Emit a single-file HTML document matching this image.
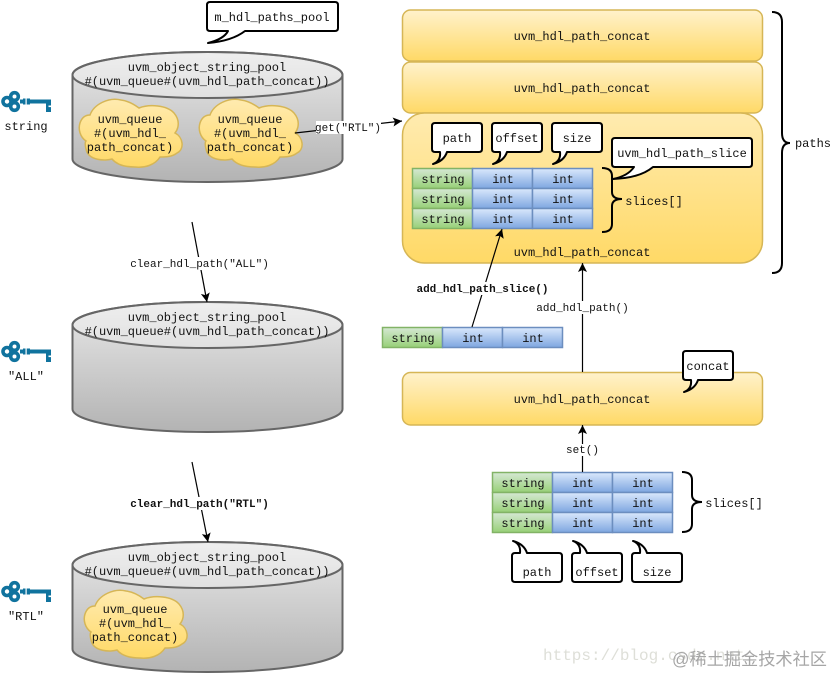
<!DOCTYPE html>
<html><head><meta charset="utf-8">
<style>
html,body{margin:0;padding:0;background:#fff;width:834px;height:674px;overflow:hidden}
svg{display:block}
text{font-family:"Liberation Mono",monospace;font-size:12px;fill:#111;text-anchor:middle}
.s{font-size:11px}
.b{font-size:11px;font-weight:bold}
.l{stroke:#000;stroke-width:1.2;fill:none}
.c{fill:#fff;stroke:#000;stroke-width:2;stroke-linejoin:round}
.g{fill:url(#gr);stroke:#82b366;stroke-width:1.5}
.u{fill:url(#bl);stroke:#6c8ebf;stroke-width:1.5}
.y{fill:url(#ye);stroke:#d6b656;stroke-width:1.5}
.z{fill:url(#ye2);stroke:#d6b656;stroke-width:1.5}
.br{fill:none;stroke:#000;stroke-width:2}
</style></head><body>
<svg width="834" height="674" viewBox="0 0 834 674" xmlns="http://www.w3.org/2000/svg">
<defs>
<linearGradient id="gy" x1="0" y1="0" x2="0" y2="1"><stop offset="0" stop-color="#e8e8e8"/><stop offset="1" stop-color="#b3b3b3"/></linearGradient>
<linearGradient id="ye" x1="0" y1="0" x2="0" y2="1"><stop offset="0" stop-color="#fff2cc"/><stop offset="1" stop-color="#ffd966"/></linearGradient>
<linearGradient id="ye2" x1="0" y1="0" x2="0" y2="1"><stop offset="0" stop-color="#ffebb0"/><stop offset="1" stop-color="#ffd966"/></linearGradient>
<linearGradient id="gr" x1="0" y1="0" x2="0" y2="1"><stop offset="0" stop-color="#d5e8d4"/><stop offset="1" stop-color="#97d077"/></linearGradient>
<linearGradient id="bl" x1="0" y1="0" x2="0" y2="1"><stop offset="0" stop-color="#dae8fc"/><stop offset="1" stop-color="#7ea6e0"/></linearGradient>
<marker id="a" markerWidth="10" markerHeight="9" refX="9" refY="4.500" orient="auto" markerUnits="userSpaceOnUse"><path d="M0 0L9 4.500L0 9L2 4.500Z" fill="#000"/></marker>
<g id="cyl">
<path d="M72.500 23A135 23 0 0 1 342.500 23V107A135 23 0 0 1 72.500 107Z" fill="url(#gy)" stroke="#666" stroke-width="2"/>
<path d="M72.500 23A135 23 0 0 0 342.500 23A135 23 0 0 0 72.500 23Z" fill="#fff" fill-opacity=".28" stroke="#666" stroke-width="2"/>
</g>
<path id="cloud" class="z" d="M11 16C15 5 30 -2 42 1C50 2 56 6 60 9C70 5 88 6 95 14C101 21 100 29 96 34C104 38 106 50 98 54C93 58 86 58 81 58C76 66 66 69 56 68C46 68 38 66 33 60C27 62 9 62 7 50C6 46 6 43 7 42C1 38 -1 30 1 24C3 18 7 16 11 16Z"/>
<g id="key">
<g fill="none" stroke="#10739e" stroke-width="3.600">
<circle cx="6" cy="10.500" r="4"/>
<circle cx="13.500" cy="5.500" r="3.800"/>
<circle cx="13.500" cy="15.500" r="3.800"/>
</g>
<g fill="#10739e">
<rect x="19" y="8.500" width="31" height="4"/>
<rect x="22" y="7.500" width="7" height="6"/>
<rect x="45" y="8.500" width="5" height="12.500"/>
</g>
<rect x="47.500" y="14.500" width="2.500" height="1.600" fill="#fff"/>
<rect x="24.500" y="7.500" width="1.200" height="6" fill="#fff"/>
</g>
<path id="call" class="c" d="M3 0H47Q50 0 50 3V26Q50 29 47 29H15Q12 38 1 41Q9 38 8 29H3Q0 29 0 26V3Q0 0 3 0Z"/>
<g id="tbl">
<rect class="g" x="0" y="0" width="60" height="20"/><rect class="u" x="60" y="0" width="60" height="20"/><rect class="u" x="120" y="0" width="60" height="20"/>
<rect class="g" x="0" y="20" width="60" height="20"/><rect class="u" x="60" y="20" width="60" height="20"/><rect class="u" x="120" y="20" width="60" height="20"/>
<rect class="g" x="0" y="40" width="60" height="20"/><rect class="u" x="60" y="40" width="60" height="20"/><rect class="u" x="120" y="40" width="60" height="20"/>
</g>
</defs>

<!-- cylinders -->
<use href="#cyl" x="0" y="52"/>
<use href="#cyl" x="0" y="302"/>
<use href="#cyl" x="0" y="542"/>
<text x="207" y="71">uvm_object_string_pool</text><text x="207" y="85">#(uvm_queue#(uvm_hdl_path_concat))</text>
<text x="207" y="321">uvm_object_string_pool</text><text x="207" y="335">#(uvm_queue#(uvm_hdl_path_concat))</text>
<text x="207" y="561">uvm_object_string_pool</text><text x="207" y="575">#(uvm_queue#(uvm_hdl_path_concat))</text>

<!-- clouds -->
<use href="#cloud" x="79" y="99"/>
<use href="#cloud" x="199" y="99"/>
<use href="#cloud" x="84" y="590"/>
<text x="130" y="123">uvm_queue</text><text x="130" y="137">#(uvm_hdl_</text><text x="130" y="151">path_concat)</text>
<text x="250" y="123">uvm_queue</text><text x="250" y="137">#(uvm_hdl_</text><text x="250" y="151">path_concat)</text>
<text x="135" y="613">uvm_queue</text><text x="135" y="627">#(uvm_hdl_</text><text x="135" y="641">path_concat)</text>

<!-- keys -->
<use href="#key" x="1" y="91"/>
<use href="#key" x="1" y="341"/>
<use href="#key" x="1" y="581"/>
<text x="26" y="130">string</text>
<text x="26" y="380">"ALL"</text>
<text x="26" y="620">"RTL"</text>

<!-- pool callout -->
<path class="c" d="M210 2H335Q338 2 338 5V28Q338 31 335 31H245Q232 41 208 43Q224 39 228 31H210Q207 31 207 28V5Q207 2 210 2Z"/>
<text x="272" y="21">m_hdl_paths_pool</text>

<!-- concat boxes -->
<rect class="y" x="402.500" y="10" width="360" height="51" rx="8"/>
<rect class="y" x="402.500" y="62" width="360" height="51" rx="8"/>
<rect class="z" x="402.500" y="113" width="360" height="150" rx="22"/>
<rect class="y" x="402.500" y="372.500" width="360" height="52.500" rx="8"/>
<text x="582" y="40">uvm_hdl_path_concat</text>
<text x="582" y="92">uvm_hdl_path_concat</text>
<text x="582" y="256">uvm_hdl_path_concat</text>
<text x="582" y="403">uvm_hdl_path_concat</text>

<!-- tables -->
<use href="#tbl" x="412.500" y="168.500"/>
<use href="#tbl" x="492.500" y="472.500"/>
<rect class="g" x="382.500" y="327.500" width="60" height="20"/><rect class="u" x="442.500" y="327.500" width="60" height="20"/><rect class="u" x="502.500" y="327.500" width="60" height="20"/>
<text x="443" y="183">string</text><text x="503" y="183">int</text><text x="563" y="183">int</text>
<text x="443" y="203">string</text><text x="503" y="203">int</text><text x="563" y="203">int</text>
<text x="443" y="223">string</text><text x="503" y="223">int</text><text x="563" y="223">int</text>
<text x="413" y="342">string</text><text x="473" y="342">int</text><text x="533" y="342">int</text>
<text x="523" y="487">string</text><text x="583" y="487">int</text><text x="643" y="487">int</text>
<text x="523" y="507">string</text><text x="583" y="507">int</text><text x="643" y="507">int</text>
<text x="523" y="527">string</text><text x="583" y="527">int</text><text x="643" y="527">int</text>

<!-- callouts top -->
<use href="#call" x="432" y="123"/>
<use href="#call" x="492" y="123"/>
<use href="#call" x="552" y="123"/>
<text x="457" y="142">path</text><text x="517" y="142">offset</text><text x="577" y="142">size</text>
<path class="c" d="M615 138H749Q752 138 752 141V164Q752 167 749 167H653Q640 178 613 179Q628 176 634 167H615Q612 167 612 164V141Q612 138 615 138Z"/>
<text x="682" y="157">uvm_hdl_path_slice</text>
<use href="#call" x="683" y="351"/>
<text x="708" y="370">concat</text>

<!-- callouts bottom -->
<use href="#call" transform="translate(512 582) scale(1 -1)"/>
<use href="#call" transform="translate(572 582) scale(1 -1)"/>
<use href="#call" transform="translate(632 582) scale(1 -1)"/>
<text x="537" y="576">path</text><text x="597" y="576">offset</text><text x="657" y="576">size</text>

<!-- braces -->
<path class="br" d="M772 12Q782 12 782 22V133Q782 143 790 143Q782 143 782 153V263Q782 273 772 273"/>
<text x="813" y="147">paths</text>
<path class="br" d="M602 168Q612 168 612 176V192Q612 199 622 199Q612 199 612 206V224Q612 232 602 232"/>
<text x="654" y="205">slices[]</text>
<path class="br" d="M682 472Q692 472 692 480V495Q692 502 702 502Q692 502 692 509V524Q692 532 682 532"/>
<text x="734" y="507">slices[]</text>

<!-- connectors -->
<path class="l" d="M295 133L402 121" marker-end="url(#a)"/>
<rect x="316" y="121" width="65" height="13" fill="#fff"/>
<text class="s" x="348" y="131">get("RTL")</text>
<path class="l" d="M192 222L207 302" marker-end="url(#a)"/>
<rect x="130" y="257" width="139" height="13" fill="#fff"/>
<text class="s" x="199.500" y="267">clear_hdl_path("ALL")</text>
<path class="l" d="M192 462L208 542" marker-end="url(#a)"/>
<rect x="130" y="497" width="139" height="13" fill="#fff"/>
<text class="b" x="199.500" y="507">clear_hdl_path("RTL")</text>
<path class="l" d="M472 327L502 229" marker-end="url(#a)"/>
<rect x="416" y="282" width="133" height="13" fill="#fff"/>
<text class="b" x="482.500" y="292">add_hdl_path_slice()</text>
<path class="l" d="M582.500 372V263" marker-end="url(#a)"/>
<rect x="536" y="301" width="93" height="13" fill="#fff"/>
<text class="s" x="582.500" y="311">add_hdl_path()</text>
<path class="l" d="M582.500 472V425" marker-end="url(#a)"/>
<rect x="566" y="444" width="33" height="12" fill="#fff"/>
<text class="s" x="582.500" y="453">set()</text>

<!-- watermark -->
<text x="543" y="660" style="text-anchor:start;font-size:16px;fill:#dedfd8">https://blog.csdn.net</text>
<text x="672" y="665" style="text-anchor:start;font-family:'Liberation Sans','Noto Sans CJK SC',sans-serif;font-size:17.2px;fill:#a6a6a6">@稀土掘金技术社区</text>
</svg>
</body></html>
